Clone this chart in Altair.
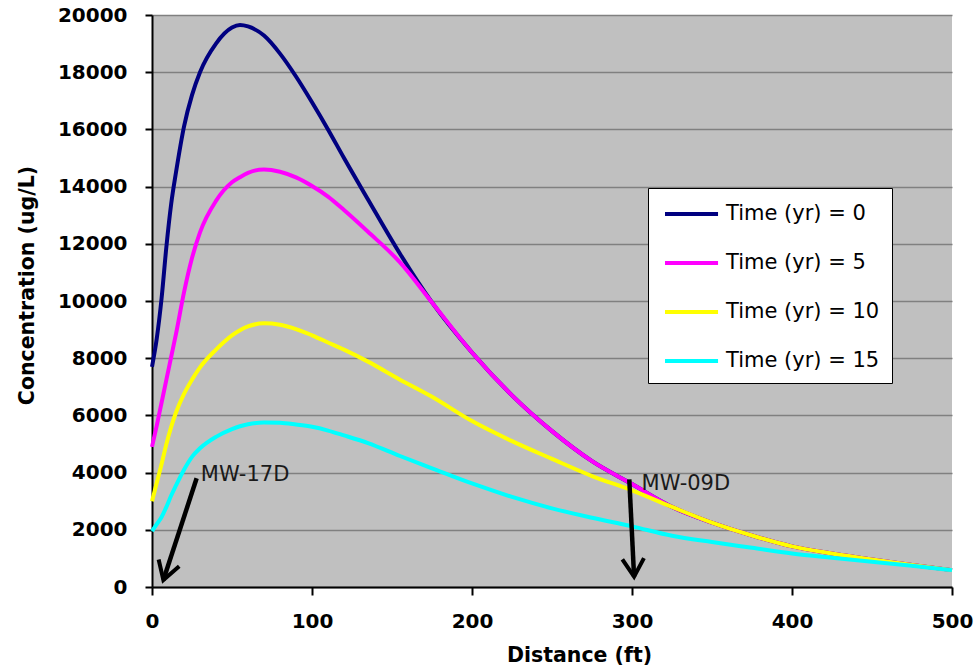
import altair as alt
import pandas as pd

# ---- data ----
distance = [0, 3, 6, 9, 12, 15, 20, 25, 30, 40, 50, 55, 60, 70, 80, 90, 100, 110, 120,
            135, 155, 175, 200, 225, 250, 275, 300, 325, 350, 375, 400, 425, 450, 475, 500]

conc_t0 = [7700, 8700, 10100, 11900, 13400, 14500, 16100, 17200, 18000, 19000, 19560, 19650,
           19600, 19280, 18650, 17850, 16950, 16000, 15000, 13550, 11650, 9950, 8200, 6700,
           5450, 4400, 3600, 2800, 2250, 1800, 1420, 1170, 960, 770, 590]
conc_t5 = [4900, 5650, 6450, 7250, 8050, 8850, 10300, 11500, 12400, 13500, 14150, 14330,
           14480, 14600, 14520, 14320, 14020, 13650, 13180, 12420, 11350, 9950, 8200, 6700,
           5450, 4400, 3600, 2800, 2250, 1800, 1420, 1170, 960, 770, 590]
conc_t10 = [3000, 3650, 4300, 5000, 5600, 6100, 6750, 7250, 7680, 8300, 8800, 8980,
            9110, 9220, 9170, 9020, 8800, 8550, 8300, 7880, 7250, 6650, 5800, 5100,
            4480, 3880, 3380, 2800, 2250, 1800, 1420, 1170, 960, 770, 590]
conc_t15 = [1950, 2200, 2450, 2800, 3200, 3550, 4100, 4550, 4850, 5250, 5520, 5620,
            5690, 5750, 5740, 5680, 5600, 5470, 5300, 5030, 4580, 4150, 3620, 3150,
            2750, 2420, 2120, 1790, 1570, 1370, 1170, 1020, 880, 740, 590]

series_labels = ["Time (yr) = 0", "Time (yr) = 5", "Time (yr) = 10", "Time (yr) = 15"]
series_colors = ["#000080", "#ff00ff", "#ffff00", "#00ffff"]
series_values = [conc_t0, conc_t5, conc_t10, conc_t15]

x_ticks = [0, 100, 200, 300, 400, 500]
y_ticks = [0, 2000, 4000, 6000, 8000, 10000, 12000, 14000, 16000, 18000, 20000]

# annotations (well labels with arrows)
ann_labels = ["MW-17D", "MW-09D"]
ann_text_x = [30.5, 306]
ann_text_y = [3900, 3600]
arrow_from_x = [27.9, 298.3]
arrow_from_y = [3800, 3765]
arrow_to_x = [7.1, 301.3]
arrow_to_y = [245, 360]
arrow_angle = [18, 357]

# ---- tables ----
rows = []
for lab, vals in zip(series_labels, series_values):
    for d, v in zip(distance, vals):
        rows.append({"Distance": d, "Concentration": v, "Series": lab})
df = pd.DataFrame(rows)

ann = pd.DataFrame({
    "label": ann_labels, "tx": ann_text_x, "ty": ann_text_y,
    "x0": arrow_from_x, "y0": arrow_from_y, "x1": arrow_to_x, "y1": arrow_to_y,
    "ang": arrow_angle,
})

xscale = alt.Scale(domain=[0, 500], nice=False, zero=False)
yscale = alt.Scale(domain=[0, 20000], nice=False)

x_axis = alt.Axis(values=x_ticks, grid=False, tickSize=8, labelPadding=16,
                  titlePadding=14, labelFlush=False, titleX=427, titleAlign="center",
                  format="d")
y_axis = alt.Axis(values=y_ticks, grid=True, tickSize=7, labelPadding=18,
                  titlePadding=20, labelFlush=False, format="d", titleY=270)


def X(field):
    return alt.X(field, type="quantitative", scale=xscale, axis=x_axis, title="Distance (ft)")


def Y(field):
    return alt.Y(field, type="quantitative", scale=yscale, axis=y_axis,
                 title="Concentration (ug/L)")


color = alt.Color(
    "Series:N",
    scale=alt.Scale(domain=series_labels, range=series_colors),
    legend=alt.Legend(
        orient="none", legendX=496, legendY=173, title=None,
        fillColor="white", strokeColor="black", padding=12,
        symbolType="M-0.75,0H3.67", symbolSize=576, symbolStrokeWidth=4,
        labelFont="DejaVu Sans", labelFontSize=21, labelFontWeight="normal",
        labelColor="black", labelOffset=38, rowPadding=25, labelLimit=400,
    ),
)

layers = []
for lab in series_labels:
    layers.append(
        alt.Chart(df)
        .transform_filter(alt.datum.Series == lab)
        .mark_line(strokeWidth=4, interpolate="monotone")
        .encode(x=X("Distance"), y=Y("Concentration"), color=color)
    )

shaft = alt.Chart(ann).mark_rule(strokeWidth=4.5, color="black").encode(
    x=X("x0"), y=Y("y0"), x2="x1:Q", y2="y1:Q"
)
head = alt.Chart(ann).mark_point(
    shape="M-0.6,-1L0,0L0.6,-1", filled=False, size=1300, strokeWidth=4,
    color="black", opacity=1,
).encode(x=X("x1"), y=Y("y1"), angle=alt.Angle("ang:Q", scale=None))
text = alt.Chart(ann).mark_text(
    align="left", baseline="middle", font="DejaVu Sans", fontSize=21, color="#1a1a1a"
).encode(x=X("tx"), y=Y("ty"), text="label:N")

chart = (
    alt.layer(*layers, shaft, head, text)
    .properties(
        width=800, height=572,
        autosize=alt.AutoSizeParams(type="none"),
        padding={"left": 152, "top": 15, "right": 26, "bottom": 85},
        background="white",
    )
    .configure_view(fill="#c0c0c0", stroke=None)
    .configure_axis(
        labelFont="DejaVu Sans", labelFontWeight="bold", labelFontSize=20,
        labelColor="black", titleFont="DejaVu Sans", titleFontWeight="bold",
        titleFontSize=20.5, titleColor="black", domainColor="black", domainWidth=2,
        tickColor="black", tickWidth=2, gridColor="#808080", gridWidth=1.5,
    )
)

chart.save("out.html", embed_options={"renderer": "svg", "actions": False})
